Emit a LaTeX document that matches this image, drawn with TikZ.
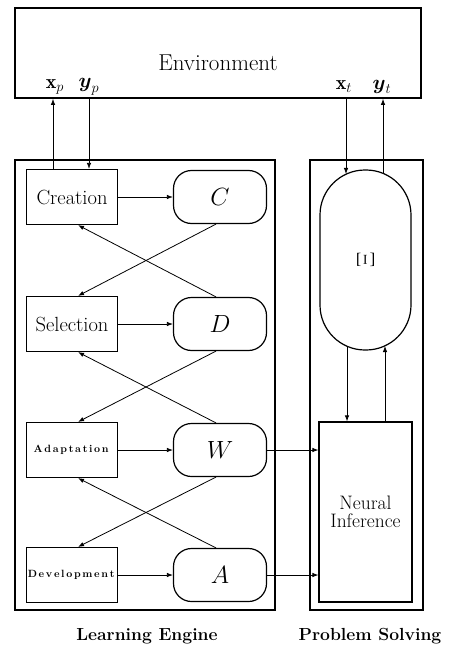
\documentclass[tikz,border=0pt]{standalone}
\usepackage{fontspec}
\usepackage{amsmath}
\usetikzlibrary{arrows.meta}
\def\spreadit#1{\spreadaux#1\relax}
\def\spreadaux#1{\ifx#1\relax\else#1\kern1.7pt\expandafter\spreadaux\fi}
\begin{document}
\begin{tikzpicture}[x=1pt,y=-1pt,
  frame/.style={draw, line width=1.7pt, inner sep=0pt},
  procbox/.style={draw, line width=1.2pt, minimum width=91pt, minimum height=55pt, inner sep=0pt, font=\fontsize{20.5}{22}\selectfont},
  smallbold/.style={font=\fontsize{10.5}{12}\selectfont\bfseries},
  store/.style={draw, line width=1.2pt, rounded corners=18pt, minimum width=93pt, minimum height=53pt, inner sep=0pt, font=\fontsize{28}{30}\selectfont},
  arr/.style={-{Latex[length=6pt,width=4.5pt]}, line width=0.8pt},
  vlabel/.style={font=\fontsize{20}{22}\selectfont},
  caption/.style={font=\fontsize{17.5}{20}\selectfont\bfseries}]
\useasboundingbox (0,0) rectangle (449,647);

% containers
\node[frame, minimum width=406pt, minimum height=90pt] (env) at (218,53) {};
\node[font=\fontsize{23}{24}\selectfont] (envtext) at (218,63) {Environment};
\node[vlabel] (xp) at (55,87) {$\mathbf{x}_p$};
\node[vlabel] (yp) at (89,87) {$\boldsymbol{y}_p$};
\node[vlabel] (xt) at (344,87) {$\mathbf{x}_t$};
\node[vlabel] (yt) at (382,87) {$\boldsymbol{y}_t$};

\node[frame, minimum width=260pt, minimum height=450pt] (le) at (145,385) {};
\node[frame, minimum width=113pt, minimum height=450pt] (ps) at (366.5,385) {};

% learning engine
\node[procbox] (creation) at (72,197) {Creation};
\node[procbox] (selection) at (72,324) {Selection};
\node[procbox, smallbold] (adaptation) at (72,450) {\spreadit{Adaptation}};
\node[procbox, smallbold] (development) at (72,575) {\spreadit{Development}};

\node[store] (C) at (220,197) {$C$};
\node[store] (D) at (220,324) {$D$};
\node[store] (W) at (220,450) {$W$};
\node[store] (A) at (220,575) {$A$};

% problem solving
\node[draw, line width=1.2pt, rounded corners=45pt, minimum width=91pt, minimum height=180pt, inner sep=0pt,
      font=\fontsize{27}{28}\selectfont] (xi) at (365.5,260) {\rotatebox{90}{$\Xi$}};
\node[draw, line width=1.2pt, minimum width=93pt, minimum height=180pt, inner sep=0pt, align=center,
      font=\fontsize{19.5}{18}\selectfont] (ni) at (365.5,512) {Neural\\Inference};

% columns
\coordinate (cxp) at (53,0);
\coordinate (cyp) at (89,0);
\coordinate (xiin) at (346,174);
\coordinate (xiout) at (383,173.5);
\coordinate (xidown) at (347,346);
\coordinate (xiup) at (385,346);

% environment links
\draw[arr] (creation.north -| cxp) -- (env.south -| cxp);
\draw[arr] (env.south -| cyp) -- (creation.north -| cyp);
\draw[arr] (env.south -| xiin) -- (xiin);
\draw[arr] (xiout) -- (env.south -| xiout);
\draw[arr] (xidown) -- (ni.north -| xidown);
\draw[arr] (ni.north -| xiup) -- (xiup);

% horizontal
\draw[arr] (creation) -- (C);
\draw[arr] (selection) -- (D);
\draw[arr] (adaptation) -- (W);
\draw[arr] (development) -- (A);
\draw[arr] (W.east) -- (W.east -| ni.west);
\draw[arr] (A.east) -- (A.east -| ni.west);

% crossings
\draw[arr] ([xshift=-4pt]D.north) -- ([xshift=6pt]creation.south);
\draw[arr] ([xshift=-4pt]C.south) -- ([xshift=6pt]selection.north);
\draw[arr] ([xshift=-4pt]W.north) -- ([xshift=6pt]selection.south);
\draw[arr] ([xshift=-4pt]D.south) -- ([xshift=6pt]adaptation.north);
\draw[arr] ([xshift=-4pt]A.north) -- ([xshift=6pt]adaptation.south);
\draw[arr] ([xshift=-4pt]W.south) -- ([xshift=6pt]development.north);

% captions
\node[caption] (lecap) at (147,636) {Learning Engine};
\node[caption] (pscap) at (370,636) {Problem Solving};
\end{tikzpicture}
\end{document}
